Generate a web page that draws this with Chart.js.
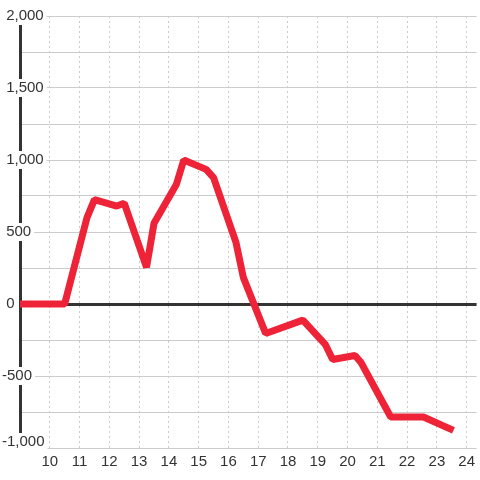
<!DOCTYPE html>
<html>
<head>
<meta charset="utf-8">
<script src="https://cdn.jsdelivr.net/npm/chart.js@4"></script>
<style>
  html, body { margin: 0; padding: 0; background: #fff; }
  #wrap { width: 480px; height: 480px; }
</style>
</head>
<body>
<div id="wrap"><canvas id="chart"></canvas></div>
<script>
// hours of day and the value at each reading
const hours = [9, 10.5, 11.25, 11.5, 12.25, 12.5, 13.25, 13.5, 14.25, 14.5, 15.25, 15.5,
  16.25, 16.5, 17.25, 18.5, 19.25, 19.5, 20.25, 20.45, 21.45, 22.55, 23.45];
const values = [0, 0, 600, 725, 680, 700, 255, 560, 830, 1000, 935, 878,
  430, 185, -205, -112, -280, -385, -358, -405, -785, -785, -868];

const xTicks = [10, 11, 12, 13, 14, 15, 16, 17, 18, 19, 20, 21, 22, 23, 24];
const yLabelTicks = [-1000, -500, 0, 500, 1000, 1500, 2000];

const COLORS = {
  line: "#EE2337",
  axis: "#333333",
  grid: "#CCCCCC",
  text: "#333333"
};

const FONT = { family: '"Liberation Sans", Arial, sans-serif', size: 15 };
const Y_MIN = -1000;

const points = hours.map((h, i) => ({ x: h, y: values[i] }));

function yLabel(v) {
  if (!yLabelTicks.includes(v)) return "";
  const s = Math.abs(v).toLocaleString("en-US");
  // hanging minus: positives get a space so digits line up
  return v < 0 ? "-" + s : " " + s;
}

// lift the bottom y label a little so it sits inside the plot
const liftBottomLabel = {
  id: "liftBottomLabel",
  beforeDraw(chart) {
    const scale = chart.scales.y;
    const items = scale.getLabelItems();
    const idx = scale.ticks.findIndex((t) => t.value === Y_MIN);
    if (idx < 0 || !items[idx] || items[idx]._lifted) return;
    items[idx].options.translation[1] -= 6;
    items[idx]._lifted = true;
  }
};

new Chart(document.getElementById("chart"), {
  type: "line",
  data: {
    datasets: [
      {
        data: points,
        borderColor: COLORS.line,
        borderWidth: 7,
        borderJoinStyle: "bevel",
        borderCapStyle: "square",
        pointRadius: 0,
        tension: 0,
        fill: false
      }
    ]
  },
  plugins: [liftBottomLabel],
  options: {
    responsive: true,
    maintainAspectRatio: false,
    animation: false,
    layout: { padding: { top: 16, left: 2, right: 0, bottom: 0 } },
    plugins: {
      legend: { display: false },
      tooltip: { enabled: false }
    },
    scales: {
      x: {
        type: "linear",
        min: 9,
        max: 9 + 460 / 30,
        afterBuildTicks(scale) {
          scale.ticks = xTicks.map((v) => ({ value: v }));
        },
        afterFit(scale) {
          scale.height = 32;
        },
        grid: {
          color: COLORS.grid,
          lineWidth: 1,
          drawTicks: false
        },
        // in v4 the dash of the grid lines sits under border
        border: { display: false, dash: [2, 3] },
        ticks: {
          color: COLORS.text,
          font: FONT,
          padding: 5,
          maxRotation: 0,
          autoSkip: false,
          callback: (v) => String(v)
        }
      },
      y: {
        min: Y_MIN,
        max: 2000,
        afterFit(scale) {
          scale.width = 18;
        },
        border: { display: true, color: COLORS.axis, width: 3 },
        grid: {
          drawTicks: false,
          color: (ctx) => (ctx.tick && ctx.tick.value === 0 ? COLORS.axis : COLORS.grid),
          lineWidth: (ctx) => (ctx.tick && ctx.tick.value === 0 ? 3 : 1)
        },
        ticks: {
          stepSize: 250,
          autoSkip: false,
          color: COLORS.text,
          font: FONT,
          mirror: true,
          padding: -18,
          showLabelBackdrop: (ctx) => yLabelTicks.includes(ctx.tick.value),
          backdropColor: "#FFFFFF",
          backdropPadding: { top: 0, bottom: 0, left: 2, right: 3 },
          callback: (v) => yLabel(v)
        }
      }
    }
  }
});
</script>
</body>
</html>
